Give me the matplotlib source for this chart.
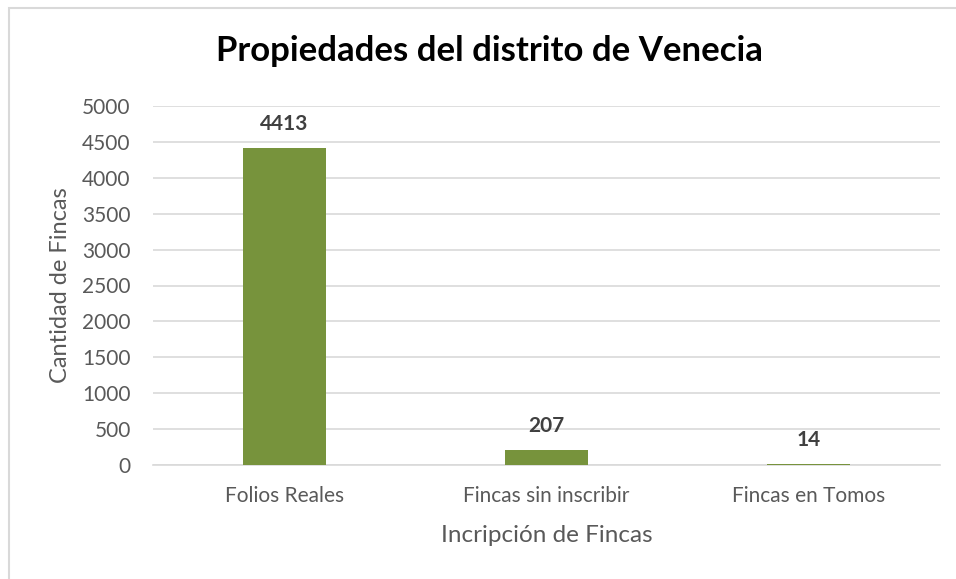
import matplotlib
matplotlib.use("Agg")
import matplotlib.pyplot as plt
from matplotlib.patches import Rectangle

categories = ["Folios Reales", "Fincas sin inscribir", "Fincas en Tomos"]
values = [4413, 207, 14]
yticks = [0, 500, 1000, 1500, 2000, 2500, 3000, 3500, 4000, 4500, 5000]

plt.rcParams['font.family'] = ['Lato', 'DejaVu Sans']

W, H = 956, 579
fig = plt.figure(figsize=(W / 100, H / 100), dpi=100)
fig.patch.set_facecolor("white")

# outer chart frame
fig.patches.append(Rectangle((8.5 / W, -0.1), 1.2, 1 - 7.5 / H + 0.1,
                             transform=fig.transFigure, fill=False,
                             edgecolor="#d9d9d9", linewidth=1.5))

ax = fig.add_axes([153 / W, 1 - 465 / H, (940 - 153) / W, (465 - 106) / H])
x = list(range(len(categories)))
ax.bar(x, values, width=0.316, color="#77933C", zorder=3)
ax.set_xlim(-0.5, len(categories) - 0.5)
ax.set_ylim(0, 5000)
ax.set_yticks(yticks)
ax.set_yticklabels([str(v) for v in yticks])
ax.set_xticks(x)
ax.set_xticklabels(categories)
ax.tick_params(axis="both", length=0, labelsize=15, labelcolor="#595959")
ax.tick_params(axis="y", pad=16)
ax.tick_params(axis="x", pad=15)
ax.grid(axis="y", color="#d9d9d9", linewidth=1.2, zorder=0)
for s in ["top", "right", "left"]:
    ax.spines[s].set_visible(False)
ax.spines["bottom"].set_color("#d9d9d9")
ax.spines["bottom"].set_linewidth(1.2)

for xi, v in zip(x, values):
    ax.annotate(str(v), (xi, v), xytext=(0, 10), textcoords="offset points",
                ha="center", va="bottom", fontsize=15, fontweight="bold",
                color="#404040")

ax.set_ylabel("Cantidad de Fincas", fontsize=17, color="#595959", labelpad=8)
ax.set_xlabel("Incripción de Fincas", fontsize=17.5, color="#595959", labelpad=14)

fig.text(489 / W, 1 - 51 / H, "Propiedades del distrito de Venecia",
         ha="center", va="center", fontsize=25, fontweight="bold", color="black")

fig.savefig("out.png", dpi=100)
